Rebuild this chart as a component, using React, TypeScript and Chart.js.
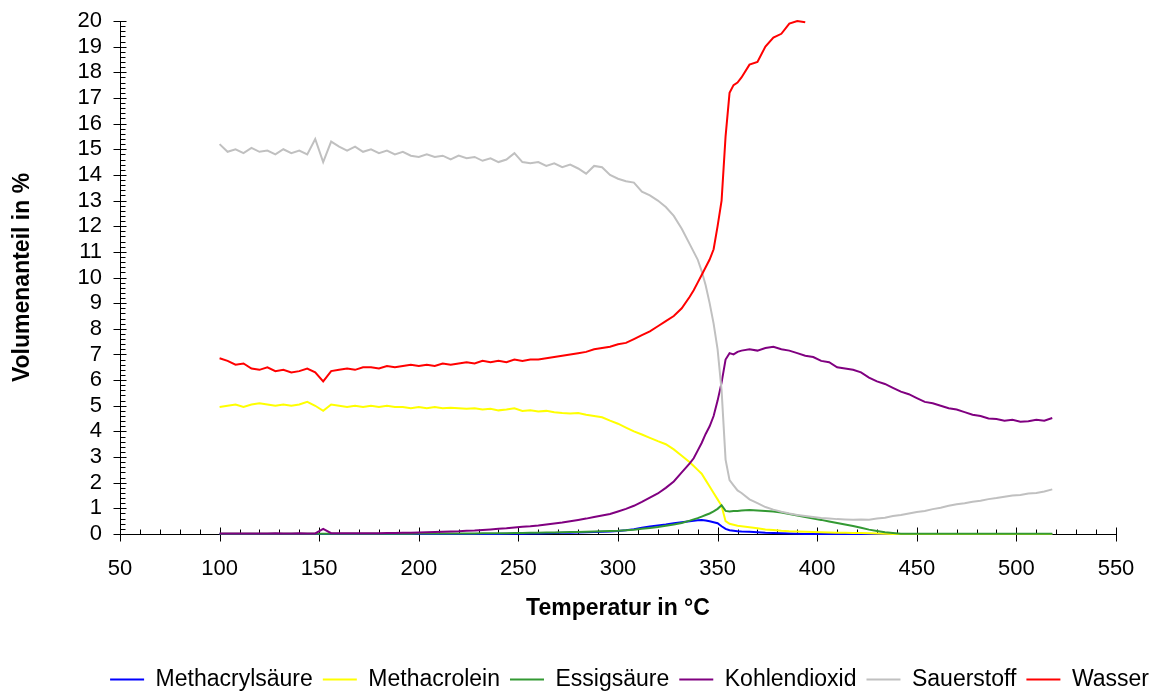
import React, { useEffect, useRef } from "react";
import { Chart, registerables } from "chart.js";

Chart.register(...registerables);

const FONT = '"Liberation Sans", Arial, Helvetica, sans-serif';

const seriesNames = ["Methacrylsäure", "Methacrolein", "Essigsäure", "Kohlendioxid", "Sauerstoff", "Wasser"];
const seriesColors = ["#0000FF", "#FFFF00", "#339933", "#800080", "#C0C0C0", "#FF0000"];

const temperature = [
  100, 104, 108, 112, 116, 120, 124, 128, 132, 136,
  140, 144, 148, 152, 156, 160, 164, 168, 172, 176,
  180, 184, 188, 192, 196, 200, 204, 208, 212, 216,
  220, 224, 228, 232, 236, 240, 244, 248, 252, 256,
  260, 264, 268, 272, 276, 280, 284, 288, 292, 296,
  300, 304, 308, 312, 316, 320, 324, 328, 332, 336,
  338, 340, 342, 344, 346, 348, 350, 352, 354, 356, 358, 360, 362,
  366, 370, 374, 378, 382, 386, 390, 394, 398, 402,
  406, 410, 414, 418, 422, 426, 430, 434, 438, 442,
  446, 450, 454, 458, 462, 466, 470, 474, 478, 482,
  486, 490, 494, 498, 502, 506, 510, 514, 518,
];

const methacrylsaeure = [
  0, 0, 0, 0, 0, 0, 0, 0, 0, 0,
  0, 0, 0, 0, 0, 0, 0, 0, 0, 0,
  0, 0, 0, 0, 0, 0, 0, 0, 0, 0,
  0, 0, 0, 0, 0, 0, 0.01, 0.01, 0.01, 0.02,
  0.02, 0.03, 0.04, 0.05, 0.05, 0.06, 0.07, 0.08, 0.09, 0.1,
  0.12, 0.15, 0.19, 0.24, 0.29, 0.33, 0.37, 0.42, 0.46, 0.5,
  0.52, 0.54, 0.55, 0.53, 0.5, 0.46, 0.42, 0.3, 0.2, 0.15, 0.13, 0.11, 0.1,
  0.09, 0.07, 0.05, 0.04, 0.03, 0.02, 0.01, 0, 0, 0,
  0, 0, 0, 0, 0, 0, 0, 0, 0, 0,
  0, 0, 0, 0, 0, 0, 0, 0, 0, 0,
  0, 0, 0, 0, 0, 0, 0, 0, 0,
];

const methacrolein = [
  4.95, 5.0, 5.05, 4.95, 5.05, 5.1, 5.05, 5.0, 5.05, 5.0,
  5.05, 5.15, 5.0, 4.8, 5.05, 5.0, 4.95, 5.0, 4.95, 5.0,
  4.95, 5.0, 4.95, 4.95, 4.9, 4.95, 4.9, 4.95, 4.9, 4.92,
  4.9, 4.88, 4.9, 4.85, 4.88, 4.82, 4.85, 4.9, 4.8, 4.82,
  4.78, 4.8, 4.75, 4.72, 4.7, 4.72, 4.65, 4.6, 4.55, 4.42,
  4.3, 4.15, 4.0, 3.88, 3.75, 3.62, 3.5, 3.3, 3.05, 2.8,
  2.65, 2.5, 2.35, 2.1, 1.85, 1.6, 1.35, 1.1, 0.5, 0.4, 0.36, 0.32, 0.3,
  0.26, 0.22, 0.18, 0.16, 0.13, 0.11, 0.1, 0.09, 0.08, 0.07,
  0.06, 0.05, 0.05, 0.04, 0.04, 0.03, 0.02, 0.01, 0, 0,
  0, 0, 0, 0, 0, 0, 0, 0, 0, 0,
  0, 0, 0, 0, 0, 0, 0, 0, 0,
];

const essigsaeure = [
  0.01, 0.01, 0.01, 0.01, 0.01, 0.01, 0.01, 0.01, 0.01, 0.01,
  0.01, 0.01, 0.01, 0.01, 0.01, 0.01, 0.01, 0.01, 0.01, 0.01,
  0.01, 0.01, 0.01, 0.02, 0.01, 0.02, 0.02, 0.02, 0.02, 0.02,
  0.02, 0.02, 0.02, 0.03, 0.03, 0.03, 0.03, 0.04, 0.04, 0.05,
  0.05, 0.06, 0.06, 0.07, 0.08, 0.08, 0.09, 0.1, 0.11, 0.12,
  0.13, 0.15, 0.17, 0.2, 0.23, 0.27, 0.32, 0.37, 0.43, 0.52,
  0.57, 0.62, 0.68, 0.74, 0.8, 0.88, 0.98, 1.12, 0.9, 0.88, 0.9, 0.9, 0.92,
  0.94, 0.92, 0.9, 0.88, 0.84, 0.78, 0.72, 0.66, 0.6, 0.55,
  0.49, 0.43, 0.37, 0.31, 0.24, 0.17, 0.12, 0.07, 0.04, 0.01,
  0.01, 0.01, 0.01, 0.01, 0.01, 0.01, 0.01, 0.01, 0.01, 0.01,
  0.01, 0.01, 0.01, 0.01, 0.01, 0.01, 0.01, 0.01, 0.01,
];

const kohlendioxid = [
  0.02, 0.02, 0.02, 0.02, 0.02, 0.02, 0.02, 0.03, 0.02, 0.02,
  0.03, 0.02, 0.02, 0.2, 0.03, 0.03, 0.03, 0.03, 0.03, 0.03,
  0.03, 0.04, 0.04, 0.05, 0.05, 0.06, 0.07, 0.08, 0.09, 0.1,
  0.11, 0.13, 0.14, 0.16, 0.18, 0.2, 0.22, 0.25, 0.28, 0.3,
  0.33, 0.37, 0.41, 0.45, 0.5, 0.55, 0.6, 0.66, 0.72, 0.78,
  0.88, 0.98, 1.1, 1.25, 1.42, 1.58, 1.8, 2.05, 2.4, 2.75,
  2.95, 3.25, 3.55, 3.9, 4.2, 4.6, 5.2, 5.9, 6.8, 7.05, 7.0, 7.1, 7.15,
  7.2, 7.15, 7.25, 7.3, 7.2, 7.15, 7.05, 6.95, 6.9, 6.75,
  6.7, 6.5, 6.45, 6.4, 6.3, 6.1, 5.95, 5.85, 5.7, 5.55,
  5.45, 5.3, 5.15, 5.1, 5.0, 4.9, 4.85, 4.75, 4.65, 4.6,
  4.5, 4.48, 4.42, 4.45, 4.38, 4.4, 4.45, 4.42, 4.52,
];

const sauerstoff = [
  15.2, 14.9, 15.0, 14.85, 15.05, 14.9, 14.95, 14.8, 15.0, 14.85,
  14.95, 14.8, 15.4, 14.5, 15.3, 15.1, 14.95, 15.1, 14.9, 15.0,
  14.85, 14.95, 14.8, 14.9, 14.75, 14.7, 14.8, 14.7, 14.75, 14.6,
  14.75, 14.65, 14.7, 14.55, 14.65, 14.5, 14.6, 14.85, 14.5, 14.45,
  14.5, 14.35, 14.45, 14.3, 14.4, 14.25, 14.05, 14.35, 14.3, 14.0,
  13.85, 13.75, 13.7, 13.35, 13.2, 13.0, 12.75, 12.4, 11.9, 11.3,
  11.0, 10.7, 10.25, 9.7, 9.0, 8.2, 7.2, 5.6, 2.9, 2.1, 1.9, 1.7, 1.6,
  1.35, 1.2, 1.05, 0.95, 0.87, 0.8, 0.74, 0.7, 0.66, 0.62,
  0.6, 0.58, 0.57, 0.56, 0.57, 0.56, 0.6, 0.63, 0.7, 0.74,
  0.8, 0.86, 0.9, 0.97, 1.02, 1.1, 1.16, 1.2, 1.26, 1.3,
  1.36, 1.4, 1.45, 1.5, 1.52, 1.58, 1.6, 1.66, 1.74,
];

const wasser = [
  6.85, 6.75, 6.6, 6.65, 6.45, 6.4, 6.5, 6.35, 6.4, 6.3,
  6.35, 6.45, 6.3, 5.95, 6.35, 6.4, 6.45, 6.4, 6.5, 6.5,
  6.45, 6.55, 6.5, 6.55, 6.6, 6.55, 6.6, 6.55, 6.65, 6.6,
  6.65, 6.7, 6.65, 6.75, 6.7, 6.75, 6.7, 6.8, 6.75, 6.8,
  6.8, 6.85, 6.9, 6.95, 7.0, 7.05, 7.1, 7.2, 7.25, 7.3,
  7.4, 7.45, 7.6, 7.75, 7.9, 8.1, 8.3, 8.5, 8.8, 9.25,
  9.5, 9.8, 10.1, 10.4, 10.7, 11.1, 12.0, 13.0, 15.5, 17.2, 17.5, 17.6, 17.8,
  18.3, 18.4, 19.0, 19.35, 19.5, 19.9, 20.0, 19.95, null, null,
  null, null, null, null, null, null, null, null, null, null,
  null, null, null, null, null, null, null, null, null, null,
  null, null, null, null, null, null, null, null, null,
];

const seriesValues = [methacrylsaeure, methacrolein, essigsaeure, kohlendioxid, sauerstoff, wasser];

const X_MIN = 50, X_MAX = 550, X_MAJOR = 50, X_MINOR = 10;
const Y_MIN = 0, Y_MAX = 20, Y_MAJOR = 1, Y_MINOR = 0.2;

const excelAxes = {
  id: "excelAxes",
  beforeDatasetsDraw(chart: any) {
    const { ctx } = chart;
    const xs = chart.scales.x;
    const ys = chart.scales.y;
    const ax = Math.round(xs.getPixelForValue(X_MIN)) + 0.5;
    const ay = Math.round(ys.getPixelForValue(Y_MIN)) + 0.5;
    const yTop = ys.getPixelForValue(Y_MAX);
    const xEnd = xs.getPixelForValue(X_MAX);
    ctx.save();
    ctx.strokeStyle = "#000";
    ctx.lineWidth = 1;
    ctx.beginPath();
    ctx.moveTo(ax, yTop);
    ctx.lineTo(ax, ay);
    ctx.moveTo(ax, ay);
    ctx.lineTo(xEnd, ay);
    const nx = Math.round((X_MAX - X_MIN) / X_MINOR);
    for (let i = 0; i <= nx; i++) {
      const v = X_MIN + i * X_MINOR;
      const px = Math.round(xs.getPixelForValue(v)) + 0.5;
      const major = Math.abs((v - X_MIN) % X_MAJOR) < 1e-6;
      if (major) {
        ctx.moveTo(px, ay - 7);
        ctx.lineTo(px, ay + 7);
      } else {
        ctx.moveTo(px, ay - 5);
        ctx.lineTo(px, ay);
      }
    }
    const ny = Math.round((Y_MAX - Y_MIN) / Y_MINOR);
    for (let i = 0; i <= ny; i++) {
      const py = Math.round(ys.getPixelForValue(Y_MIN + i * Y_MINOR)) + 0.5;
      if (i % Math.round(Y_MAJOR / Y_MINOR) === 0) {
        ctx.moveTo(ax - 7, py);
        ctx.lineTo(ax + 6, py);
      } else {
        ctx.moveTo(ax, py);
        ctx.lineTo(ax + 5, py);
      }
    }
    ctx.stroke();
    ctx.restore();
  },
};

export default function App() {
  const canvasRef = useRef<HTMLCanvasElement | null>(null);

  useEffect(() => {
    if (!canvasRef.current) return;
    const datasets = seriesNames.map((name, i) => ({
      label: name,
      data: temperature.map((t, j) => ({ x: t, y: seriesValues[i][j] })),
      borderColor: seriesColors[i],
      backgroundColor: seriesColors[i],
      borderWidth: 2,
      pointRadius: 0,
      fill: false,
      tension: 0,
      spanGaps: false,
      clip: 4,
      order: seriesNames.length - 1 - i,
    }));

    const chart = new Chart(canvasRef.current, {
      type: "line",
      data: { datasets },
      plugins: [excelAxes],
      options: {
        animation: false,
        responsive: true,
        maintainAspectRatio: false,
        events: [],
        layout: { padding: { top: 21, left: 0, right: 0, bottom: -8 } },
        plugins: {
          tooltip: { enabled: false },
          legend: {
            position: "bottom",
            align: "end",
            labels: {
              usePointStyle: true,
              pointStyle: "line",
              pointStyleWidth: 34,
              padding: 10,
              color: "#000",
              font: { family: FONT, size: 23 },
              sort: (a: any, b: any) => a.datasetIndex - b.datasetIndex,
            },
          },
        },
        scales: {
          x: {
            type: "linear",
            min: X_MIN,
            max: X_MAX,
            grid: { display: false, drawTicks: false },
            border: { display: false },
            ticks: {
              stepSize: X_MAJOR,
              color: "#000",
              padding: 22,
              maxRotation: 0,
              autoSkip: false,
              font: { family: FONT, size: 22 },
            },
            title: {
              display: true,
              text: "Temperatur in °C",
              color: "#000",
              font: { family: FONT, size: 23, weight: "bold" },
              padding: { top: 0, bottom: 36 },
            },
            afterFit: (s: any) => {
              s.height = 124;
              s.paddingRight = 43;
            },
          },
          y: {
            type: "linear",
            min: Y_MIN,
            max: Y_MAX,
            grid: { display: false, drawTicks: false },
            border: { display: false },
            ticks: {
              stepSize: Y_MAJOR,
              color: "#000",
              padding: 18,
              autoSkip: false,
              font: { family: FONT, size: 22 },
            },
            title: {
              display: true,
              text: "Volumenanteil in %",
              color: "#000",
              font: { family: FONT, size: 23, weight: "bold" },
              padding: { top: 9, bottom: 0 },
            },
            afterFit: (s: any) => {
              s.width = 120;
              s.paddingTop = 0;
              s.paddingBottom = 0;
            },
          },
        },
      } as any,
    });
    return () => chart.destroy();
  }, []);

  return (
    <div style={{ position: "fixed", left: 0, top: 0, width: 1159, height: 693, background: "#fff" }}>
      <canvas ref={canvasRef} />
    </div>
  );
}
